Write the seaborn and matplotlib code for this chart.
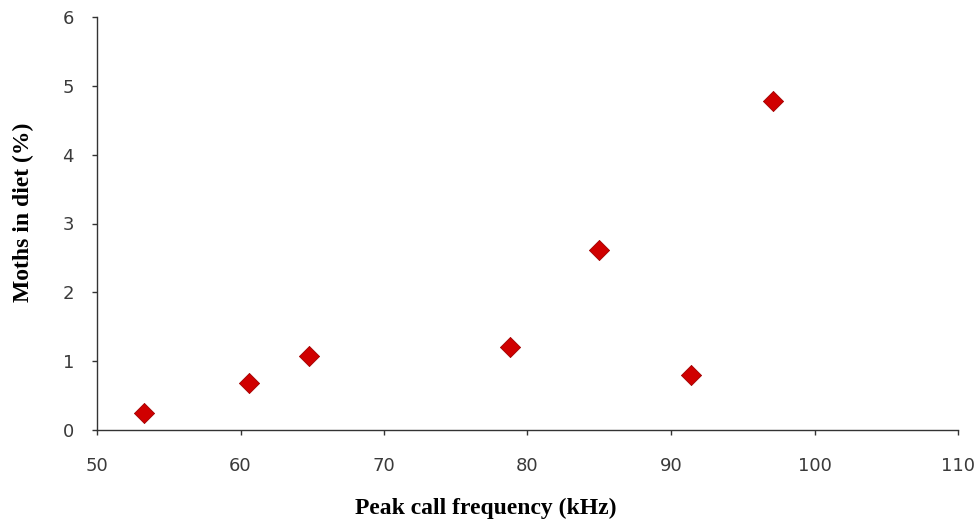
import matplotlib
matplotlib.use("Agg")
import matplotlib.pyplot as plt
import seaborn as sns
import pandas as pd

# Peak call frequency (kHz) vs percentage of moths in diet
peak_freq = [53.3, 60.6, 64.8, 78.8, 85.0, 91.4, 97.1]
moths_pct = [0.24, 0.68, 1.07, 1.21, 2.61, 0.80, 4.78]

x_ticks = [50, 60, 70, 80, 90, 100, 110]
y_ticks = [0, 1, 2, 3, 4, 5, 6]

df = pd.DataFrame({"freq": peak_freq, "moths": moths_pct})

sns.set_theme(style="ticks")
plt.rcParams["font.family"] = ["DejaVu Sans"]

fig = plt.figure(figsize=(9.8, 5.24), dpi=100)
ax = fig.add_axes([97 / 980, 94 / 524, (958 - 97) / 980, (430 - 17) / 524])

sns.scatterplot(data=df, x="freq", y="moths", marker="D", s=105,
                color="#d00000", edgecolor="#a00000", linewidth=0.6, ax=ax)

ax.set_xlim(50, 110)
ax.set_ylim(0, 6)
ax.set_xticks(x_ticks)
ax.set_yticks(y_ticks)
ax.tick_params(axis="both", direction="out", length=3.6, width=1, colors="#333333",
               labelsize=13, labelcolor="#3a3a3a")
ax.tick_params(axis="x", pad=16)
ax.tick_params(axis="y", pad=13)

for side in ("top", "right"):
    ax.spines[side].set_visible(False)
for side in ("left", "bottom"):
    ax.spines[side].set_color("#333333")
    ax.spines[side].set_linewidth(1)

ax.set_xlabel("Peak call frequency (kHz)", fontsize=17, fontweight="bold",
              family="Liberation Serif", color="black")
ax.set_ylabel("Moths in diet (%)", fontsize=17, fontweight="bold",
              family="Liberation Serif", color="black")
ax.xaxis.label.set_va("center")
ax.xaxis.set_label_coords(0.452, -0.189)
ax.yaxis.label.set_va("center")
ax.yaxis.set_label_coords(-0.085, 0.528)

fig.savefig("out.png", dpi=100, facecolor="white")
